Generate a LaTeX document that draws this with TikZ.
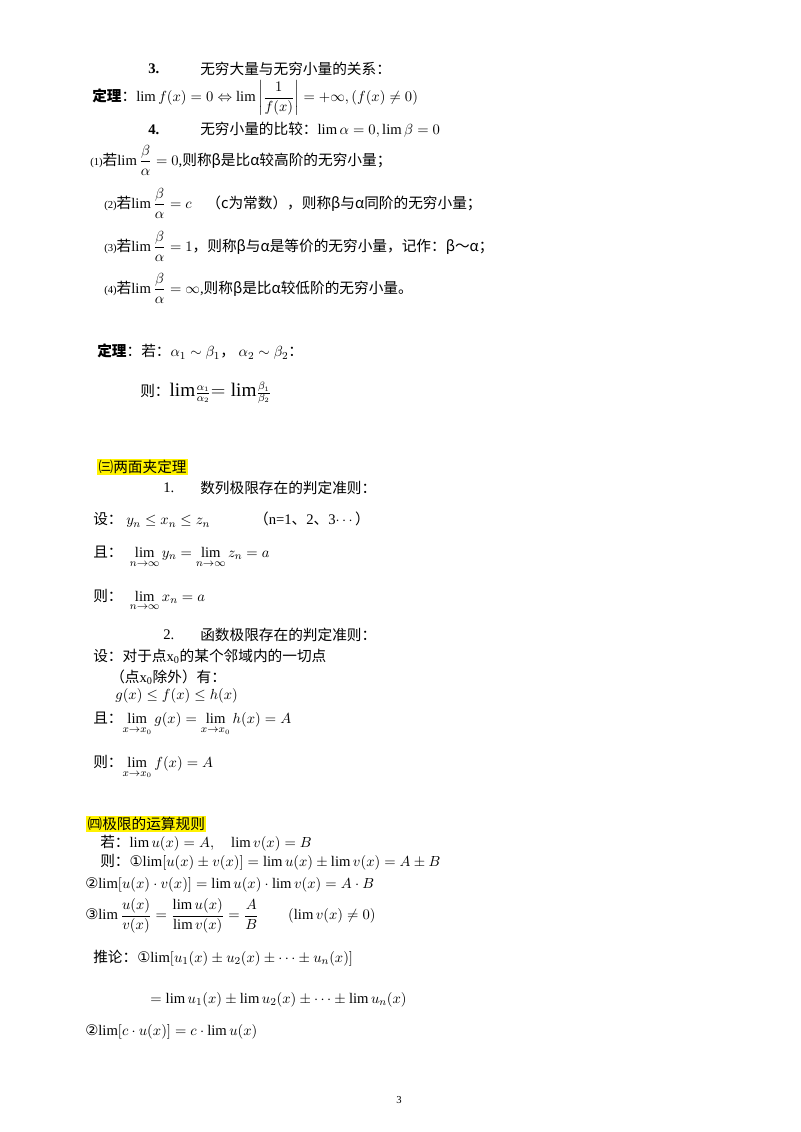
\documentclass[tikz,border=0pt]{standalone}
\usepackage{amsmath}
\usepackage{fontspec}
\setmainfont{Liberation Serif}
\newfontfamily\cjk{Noto Sans CJK SC}
\newfontfamily\dvs{DejaVu Sans}
\newcommand{\zh}[1]{{\cjk #1}}
\newcommand{\cir}[1]{{\dvs #1}}
\newcommand{\sm}[1]{{\footnotesize #1}}
\begin{document}
\begin{tikzpicture}[x=0.75pt,y=-0.75pt,
  t/.style={anchor=west,inner sep=0pt,font=\fontsize{11}{13}\selectfont},
  hl/.style={t,fill=yellow,inner sep=1pt}]
\useasboundingbox (0,0) rectangle (800,1132);
\node[t] (a1) at (148,69) {\textbf{3.}};
\node[t] (a2) at (200,69) {\zh{无穷大量与无穷小量的关系：}};
\node[t] (a3) at (92,98) {\zh{\textbf{定理}：}$\lim f(x)=0\Leftrightarrow\lim\left|\dfrac{1}{f(x)}\right|=+\infty,(f(x)\neq0)$};
\node[t] (a4) at (148,130) {\textbf{4.}};
\node[t] (a5) at (200,130) {\zh{无穷小量的比较：}$\lim\alpha=0,\lim\beta=0$};
\node[t] (b1) at (90,160) {\sm{(1)}\zh{若}$\lim\dfrac{\beta}{\alpha}=0$,\zh{则称β是比α较高阶的无穷小量；}};
\node[t] (b2) at (104,203) {\sm{(2)}\zh{若}$\lim\dfrac{\beta}{\alpha}=c$\quad\zh{（c为常数），则称β与α同阶的无穷小量；}};
\node[t] (b3) at (104,246) {\sm{(3)}\zh{若}$\lim\dfrac{\beta}{\alpha}=1$\zh{，则称β与α是等价的无穷小量，记作：β～α；}};
\node[t] (b4) at (104,288) {\sm{(4)}\zh{若}$\lim\dfrac{\beta}{\alpha}=\infty$,\zh{则称β是比α较低阶的无穷小量。}};
\node[t] (c1) at (97,352) {\zh{\textbf{定理}：若：}$\alpha_1\sim\beta_1$\zh{，}\ $\alpha_2\sim\beta_2$\zh{：}};
\node[t] (c2) at (140,393) {\zh{则：}{\Large$\mathrm{lim}$}$\frac{\alpha_1}{\alpha_2}${\Large$=\mathrm{lim}$}$\frac{\beta_1}{\beta_2}$};
\node[hl] (d0) at (97,467) {\zh{㈢两面夹定理}};
\node[t] (d1) at (163,488) {1.};
\node[t] (d2) at (200,488) {\zh{数列极限存在的判定准则：}};
\node[t] (d3) at (93,520) {\zh{设：}\ $y_n\le x_n\le z_n$\qquad\quad\zh{（}n=1\zh{、}2\zh{、}3$\cdots$\zh{）}};
\node[t] (d4) at (93,557) {\zh{且：}\ \ $\lim\limits_{n\to\infty}y_n=\lim\limits_{n\to\infty}z_n=a$};
\node[t] (d5) at (93,600) {\zh{则：}\ \ $\lim\limits_{n\to\infty}x_n=a$};
\node[t] (e1) at (163,635) {2.};
\node[t] (e2) at (200,635) {\zh{函数极限存在的判定准则：}};
\node[t] (e3) at (93,656) {\zh{设：对于点}x\textsubscript{0}\zh{的某个邻域内的一切点}};
\node[t] (e4) at (110,677) {\zh{（点}x\textsubscript{0}\zh{除外）有：}};
\node[t] (e5) at (115,696) {$g(x)\le f(x)\le h(x)$};
\node[t] (e6) at (93,724) {\zh{且：}$\lim\limits_{x\to x_0}g(x)=\lim\limits_{x\to x_0}h(x)=A$};
\node[t] (e7) at (93,767) {\zh{则：}$\lim\limits_{x\to x_0}f(x)=A$};
\node[hl] (f0) at (86,824) {\zh{㈣极限的运算规则}};
\node[t] (f1) at (100,843) {\zh{若：}$\lim u(x)=A,\quad\lim v(x)=B$};
\node[t] (f2) at (100,862) {\zh{则：}\cir{①}$\lim[u(x)\pm v(x)]=\lim u(x)\pm\lim v(x)=A\pm B$};
\node[t] (f3) at (85,885) {\cir{②}$\lim[u(x)\cdot v(x)]=\lim u(x)\cdot\lim v(x)=A\cdot B$};
\node[t] (f4) at (85,916) {\cir{③}$\lim\dfrac{u(x)}{v(x)}=\dfrac{\lim u(x)}{\lim v(x)}=\dfrac{A}{B}\qquad(\lim v(x)\neq0)$};
\node[t] (g1) at (93,958) {\zh{推论：}\cir{①}$\lim[u_1(x)\pm u_2(x)\pm\cdots\pm u_n(x)]$};
\node[t] (g2) at (150,1000) {$=\lim u_1(x)\pm\lim u_2(x)\pm\cdots\pm\lim u_n(x)$};
\node[t] (g3) at (85,1032) {\cir{②}$\lim[c\cdot u(x)]=c\cdot\lim u(x)$};
\node[t,font=\footnotesize] (pg) at (396,1100) {3};
\end{tikzpicture}
\end{document}
